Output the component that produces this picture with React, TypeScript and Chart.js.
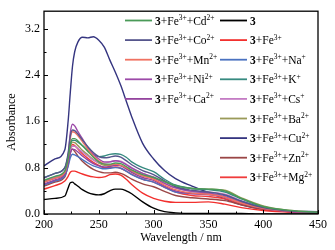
import React, { useEffect, useRef } from "react";
import { Chart, registerables } from "chart.js";

Chart.register(...registerables);

// Wavelength grid (nm)
const WAVELENGTHS = [200, 210, 219, 222, 224, 226, 228, 231, 235, 240, 245, 250, 255, 260, 265, 270, 275, 280, 290, 300, 310, 320, 335, 350, 365, 380, 400, 425, 450];

// Absorbance series
const S3 = [0.25, 0.27, 0.31, 0.45, 0.54, 0.55, 0.52, 0.48, 0.42, 0.37, 0.34, 0.33, 0.35, 0.40, 0.43, 0.43, 0.40, 0.35, 0.21, 0.10, 0.04, 0.02, 0.01, 0.01, 0.01, 0.01, 0.00, 0.00, 0.00];
const FE = [0.43, 0.49, 0.57, 0.65, 0.72, 0.74, 0.74, 0.72, 0.69, 0.66, 0.64, 0.63, 0.64, 0.68, 0.69, 0.67, 0.60, 0.51, 0.36, 0.27, 0.22, 0.20, 0.20, 0.21, 0.17, 0.11, 0.06, 0.03, 0.02];
const CU = [0.83, 0.95, 1.11, 1.60, 2.10, 2.55, 2.80, 2.97, 3.05, 3.04, 3.06, 3.00, 2.88, 2.66, 2.45, 2.22, 1.95, 1.68, 1.22, 0.95, 0.75, 0.61, 0.48, 0.37, 0.26, 0.16, 0.08, 0.05, 0.04];
const NI = [0.55, 0.62, 0.72, 1.00, 1.40, 1.55, 1.52, 1.42, 1.30, 1.15, 1.03, 0.95, 0.90, 0.90, 0.92, 0.90, 0.85, 0.79, 0.70, 0.63, 0.53, 0.45, 0.39, 0.36, 0.30, 0.20, 0.10, 0.05, 0.03];
const CO = [0.62, 0.70, 0.80, 1.05, 1.35, 1.45, 1.44, 1.38, 1.28, 1.16, 1.06, 0.99, 0.97, 0.98, 1.00, 0.98, 0.92, 0.85, 0.75, 0.68, 0.57, 0.47, 0.41, 0.38, 0.33, 0.22, 0.11, 0.05, 0.03];
const MN = [0.55, 0.62, 0.72, 0.95, 1.30, 1.42, 1.41, 1.35, 1.25, 1.12, 1.00, 0.92, 0.86, 0.85, 0.86, 0.84, 0.80, 0.75, 0.66, 0.60, 0.50, 0.42, 0.36, 0.34, 0.29, 0.19, 0.10, 0.05, 0.03];
const CD = [0.58, 0.65, 0.74, 0.95, 1.20, 1.30, 1.30, 1.26, 1.18, 1.08, 0.98, 0.90, 0.86, 0.86, 0.88, 0.87, 0.82, 0.76, 0.68, 0.63, 0.56, 0.49, 0.44, 0.43, 0.40, 0.27, 0.13, 0.06, 0.03];
const K = [0.63, 0.70, 0.80, 1.00, 1.20, 1.27, 1.27, 1.24, 1.18, 1.10, 1.03, 0.99, 1.00, 1.03, 1.04, 1.03, 0.98, 0.90, 0.80, 0.73, 0.60, 0.50, 0.44, 0.42, 0.38, 0.26, 0.12, 0.05, 0.03];
const BA = [0.55, 0.62, 0.72, 0.92, 1.15, 1.24, 1.23, 1.18, 1.10, 1.02, 0.94, 0.88, 0.84, 0.84, 0.85, 0.84, 0.80, 0.74, 0.66, 0.62, 0.55, 0.49, 0.44, 0.43, 0.41, 0.28, 0.14, 0.06, 0.03];
const MG = [0.50, 0.57, 0.67, 0.88, 1.10, 1.20, 1.18, 1.12, 1.04, 0.96, 0.89, 0.84, 0.80, 0.80, 0.81, 0.79, 0.74, 0.69, 0.60, 0.55, 0.46, 0.38, 0.32, 0.30, 0.26, 0.17, 0.09, 0.04, 0.03];
const CS = [0.57, 0.64, 0.74, 0.92, 1.10, 1.17, 1.17, 1.13, 1.07, 1.00, 0.93, 0.89, 0.88, 0.90, 0.92, 0.91, 0.86, 0.80, 0.70, 0.64, 0.53, 0.45, 0.39, 0.38, 0.34, 0.23, 0.11, 0.05, 0.03];
const CA = [0.52, 0.59, 0.69, 0.88, 1.05, 1.12, 1.11, 1.07, 1.00, 0.93, 0.87, 0.83, 0.81, 0.82, 0.84, 0.83, 0.78, 0.72, 0.63, 0.58, 0.48, 0.40, 0.35, 0.33, 0.29, 0.19, 0.10, 0.04, 0.03];
const ZN = [0.48, 0.55, 0.64, 0.85, 1.05, 1.12, 1.08, 1.00, 0.91, 0.83, 0.77, 0.73, 0.71, 0.71, 0.72, 0.70, 0.66, 0.60, 0.52, 0.47, 0.39, 0.32, 0.28, 0.26, 0.23, 0.16, 0.08, 0.04, 0.02];
const NA = [0.50, 0.57, 0.66, 0.82, 0.97, 1.03, 1.02, 0.99, 0.94, 0.88, 0.83, 0.80, 0.78, 0.79, 0.80, 0.79, 0.74, 0.68, 0.60, 0.55, 0.46, 0.38, 0.36, 0.35, 0.32, 0.22, 0.11, 0.05, 0.03];

// Tick values
const X_TICKS = [200, 250, 300, 350, 400, 450];
const Y_TICKS = [0, 0.8, 1.6, 2.4, 3.2];

// Legend: ion null = compound 3 alone, "Fe" = 3+Fe3+
type Series = { ion: string | null; charge: string; data: number[]; color: string; col: number; row: number };
const SERIES: Series[] = [
  { ion: "Cd", charge: "2+", data: CD, color: "#4a9a58", col: 0, row: 0 },
  { ion: "Co", charge: "2+", data: CO, color: "#56568c", col: 0, row: 1 },
  { ion: "Mn", charge: "2+", data: MN, color: "#f07262", col: 0, row: 2 },
  { ion: "Ni", charge: "2+", data: NI, color: "#9c4aa8", col: 0, row: 3 },
  { ion: "Ca", charge: "2+", data: CA, color: "#94449e", col: 0, row: 4 },
  { ion: null, charge: "", data: S3, color: "#000000", col: 1, row: 0 },
  { ion: "Fe", charge: "", data: FE, color: "#f2302e", col: 1, row: 1 },
  { ion: "Na", charge: "+", data: NA, color: "#4a72c0", col: 1, row: 2 },
  { ion: "K", charge: "+", data: K, color: "#378a80", col: 1, row: 3 },
  { ion: "Cs", charge: "+", data: CS, color: "#c47cc4", col: 1, row: 4 },
  { ion: "Ba", charge: "2+", data: BA, color: "#9a9a58", col: 1, row: 5 },
  { ion: "Cu", charge: "2+", data: CU, color: "#353580", col: 1, row: 6 },
  { ion: "Zn", charge: "2+", data: ZN, color: "#9a4646", col: 1, row: 7 },
  { ion: "Mg", charge: "2+", data: MG, color: "#f03c3c", col: 1, row: 8 },
];

const FONT = "'Liberation Serif', 'Times New Roman', serif";

function drawLabel(ctx: CanvasRenderingContext2D, x: number, y: number, s: Series) {
  const base = y + 4;
  const supBase = base - 4.5;
  let cx = x;
  ctx.fillStyle = "#000";
  ctx.textAlign = "left";
  ctx.textBaseline = "alphabetic";
  const put = (t: string, font: string, b: number) => {
    ctx.font = font;
    ctx.fillText(t, cx, b);
    cx += ctx.measureText(t).width;
  };
  const normal = `11.5px ${FONT}`;
  const bold = `bold 11.5px ${FONT}`;
  const sup = `7.5px ${FONT}`;
  put("3", bold, base);
  if (s.ion === null) return;
  put("+Fe", normal, base);
  put("3+", sup, supBase);
  if (s.ion === "Fe") return;
  put("+" + s.ion, normal, base);
  put(s.charge, sup, supBase);
}

const decorPlugin = {
  id: "decor",
  afterDraw(chart: any) {
    const { ctx, chartArea, scales } = chart;
    const xs = scales.x;
    const ys = scales.y;
    ctx.save();
    // frame
    ctx.strokeStyle = "#000";
    ctx.lineWidth = 1.3;
    ctx.strokeRect(chartArea.left, chartArea.top, chartArea.right - chartArea.left, chartArea.bottom - chartArea.top);
    // ticks (inward)
    ctx.lineWidth = 1;
    ctx.beginPath();
    for (let v = 200; v <= 450; v += 25) {
      const px = Math.round(xs.getPixelForValue(v)) + 0.5;
      const len = v % 50 === 0 ? 4 : 2.5;
      ctx.moveTo(px, chartArea.bottom);
      ctx.lineTo(px, chartArea.bottom - len);
    }
    for (let i = 0; i <= 8; i++) {
      const v = i * 0.4;
      const py = Math.round(ys.getPixelForValue(v)) + 0.5;
      const len = i % 2 === 0 ? 4 : 2.5;
      ctx.moveTo(chartArea.left, py);
      ctx.lineTo(chartArea.left + len, py);
    }
    ctx.stroke();
    // axis titles
    ctx.fillStyle = "#000";
    ctx.font = `12px ${FONT}`;
    ctx.textAlign = "center";
    ctx.textBaseline = "middle";
    ctx.fillText("Wavelength / nm", (chartArea.left + chartArea.right) / 2, 238);
    ctx.translate(12, 122);
    ctx.rotate(-Math.PI / 2);
    ctx.fillText("Absorbance", 0, 0);
    ctx.restore();

    // legend
    ctx.save();
    const colX = [125, 220];
    for (const s of SERIES) {
      const x0 = colX[s.col];
      const y = 20.5 + s.row * 19.6;
      ctx.strokeStyle = s.color;
      ctx.lineWidth = 1.8;
      ctx.beginPath();
      ctx.moveTo(x0, y);
      ctx.lineTo(x0 + 27, y);
      ctx.stroke();
      drawLabel(ctx, x0 + 30, y, s);
    }
    ctx.restore();
  },
};

export default function App() {
  const ref = useRef<HTMLCanvasElement | null>(null);
  useEffect(() => {
    if (!ref.current) return;
    const order = [...SERIES].sort((a, b) => (a.ion === "Cu" ? 1 : 0) - (b.ion === "Cu" ? 1 : 0));
    const chart = new Chart(ref.current, {
      type: "line",
      data: {
        labels: WAVELENGTHS,
        datasets: order.map((s) => ({
          label: s.ion ?? "3",
          data: WAVELENGTHS.map((w, i) => ({ x: w, y: s.data[i] })),
          borderColor: s.color,
          backgroundColor: s.color,
          borderWidth: 1.4,
          pointRadius: 0,
          cubicInterpolationMode: "monotone" as const,
          fill: false,
        })),
      },
      options: {
        animation: false,
        responsive: false,
        events: [],
        layout: { padding: { top: 11, right: 17, left: 0, bottom: 0 } },
        plugins: { legend: { display: false }, tooltip: { enabled: false }, title: { display: false } },
        scales: {
          x: {
            type: "linear",
            min: 200,
            max: 450,
            afterBuildTicks: (scale: any) => {
              scale.ticks = X_TICKS.map((v) => ({ value: v }));
            },
            afterFit: (scale: any) => {
              scale.height = 36;
            },
            ticks: { color: "#000", font: { family: FONT, size: 12 }, padding: 4, maxRotation: 0, autoSkip: false },
            grid: { display: false, drawTicks: false },
            border: { display: false },
          },
          y: {
            type: "linear",
            min: 0,
            max: 3.5,
            afterBuildTicks: (scale: any) => {
              scale.ticks = Y_TICKS.map((v) => ({ value: v }));
            },
            afterFit: (scale: any) => {
              scale.width = 44;
            },
            ticks: {
              color: "#000",
              font: { family: FONT, size: 12 },
              padding: 4,
              autoSkip: false,
              callback: (v: any) => Number(v).toFixed(1),
            },
            grid: { display: false, drawTicks: false },
            border: { display: false },
          },
        },
      },
      plugins: [decorPlugin],
    });
    return () => chart.destroy();
  }, []);
  return (
    <div style={{ position: "fixed", left: 0, top: 0, width: 335, height: 250, background: "#fff" }}>
      <canvas ref={ref} width={335} height={250} style={{ width: 335, height: 250 }} />
    </div>
  );
}
